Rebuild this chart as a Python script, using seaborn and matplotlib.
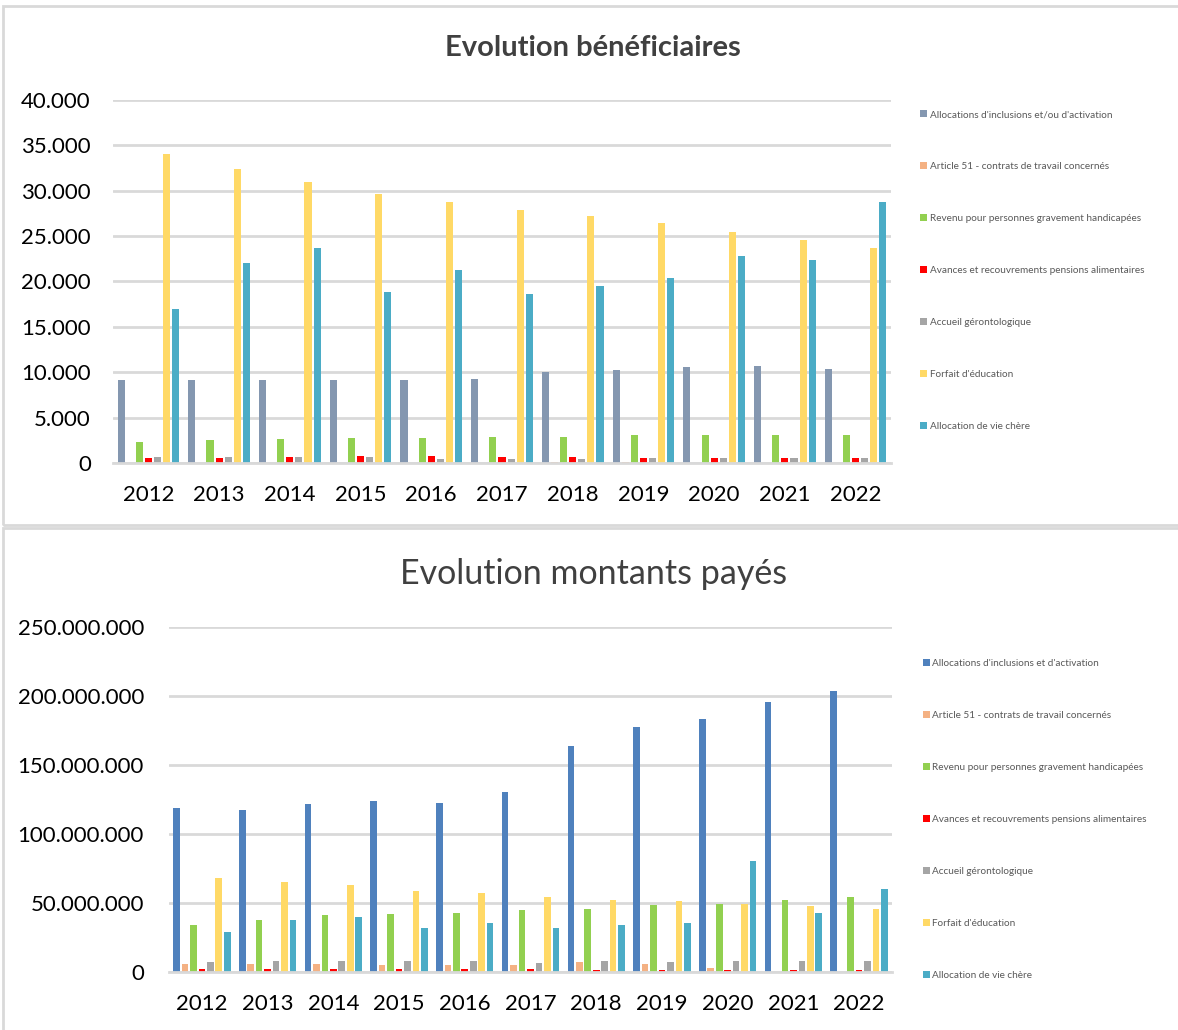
import numpy as np
import pandas as pd
import seaborn as sns
import matplotlib.pyplot as plt
from matplotlib.patches import Rectangle
from matplotlib.ticker import FuncFormatter

years = [2012, 2013, 2014, 2015, 2016, 2017, 2018, 2019, 2020, 2021, 2022]

# Evolution beneficiaires
benef_labels = ["Allocations d'inclusions et/ou d'activation",
                "Article 51 - contrats de travail concernés",
                "Revenu pour personnes gravement handicapées",
                "Avances et recouvrements pensions alimentaires",
                "Accueil gérontologique",
                "Forfait d'éducation",
                "Allocation de vie chère"]
benef_inclusion = [9200, 9200, 9200, 9200, 9200, 9300, 10000, 10250, 10550, 10700, 10400]
benef_art51 = [0, 0, 0, 0, 0, 0, 150, 150, 0, 0, 0]
benef_rpgh = [2350, 2500, 2600, 2750, 2750, 2900, 2900, 3050, 3050, 3050, 3050]
benef_avances = [500, 500, 650, 770, 770, 650, 650, 500, 500, 500, 500]
benef_accueil = [650, 650, 650, 650, 480, 480, 480, 500, 500, 500, 500]
benef_forfait = [34000, 32400, 31000, 29600, 28800, 27900, 27200, 26500, 25500, 24600, 23650]
benef_vie_chere = [17000, 22000, 23700, 18800, 21250, 18600, 19550, 20400, 22800, 22400, 28800]

# Evolution montants payes (millions)
pay_labels = ["Allocations d'inclusions et d'activation",
              "Article 51 - contrats de travail concernés",
              "Revenu pour personnes gravement handicapées",
              "Avances et recouvrements pensions alimentaires",
              "Accueil gérontologique",
              "Forfait d'éducation",
              "Allocation de vie chère"]
pay_inclusion = [119.2, 117.3, 121.9, 123.8, 122.8, 130.3, 163.6, 177.5, 183.1, 195.4, 203.5]
pay_art51 = [6, 6, 6, 5, 5, 5, 7, 6, 3, 0, 0]
pay_rpgh = [34.0, 37.6, 41.2, 42.2, 43.1, 45.0, 45.8, 48.9, 49.6, 52.3, 54.3]
pay_avances = [2.2, 2.2, 2.2, 2.2, 2.2, 2.2, 1.5, 1.5, 1.5, 1.5, 1.5]
pay_accueil = [7, 8, 8, 8, 8, 6.8, 8, 7, 8, 8, 8]
pay_forfait = [68.3, 65.4, 62.7, 58.9, 57.2, 54.3, 52.3, 51.6, 49.6, 47.7, 45.8]
pay_vie_chere = [29.1, 37.6, 40.2, 32.0, 35.6, 32.0, 33.9, 35.6, 80.2, 43.1, 59.8]

benef_colors = ['#8497B0', '#F4B183', '#92D050', '#FF0000', '#A5A5A5', '#FFD966', '#4BACC6']
pay_colors = ['#4F81BD', '#F4B183', '#92D050', '#FF0000', '#A5A5A5', '#FFD966', '#4BACC6']


def to_long(labels, series, scale=1):
    rows = []
    for lab, vals in zip(labels, series):
        for y, v in zip(years, vals):
            rows.append({'year': str(y), 'serie': lab, 'value': v * scale})
    return pd.DataFrame(rows)


df_benef = to_long(benef_labels, [benef_inclusion, benef_art51, benef_rpgh, benef_avances,
                                  benef_accueil, benef_forfait, benef_vie_chere])
df_pay = to_long(pay_labels, [pay_inclusion, pay_art51, pay_rpgh, pay_avances,
                              pay_accueil, pay_forfait, pay_vie_chere], scale=1e6)

sns.set_style('white')
plt.rcParams['font.family'] = ['Lato', 'DejaVu Sans']

W, H = 1178, 1030
fig = plt.figure(figsize=(W / 100, H / 100), dpi=100)


def px_axes(left, top, right, bottom):
    return fig.add_axes([left / W, 1 - bottom / H, (right - left) / W, (bottom - top) / H])


dot_fmt = FuncFormatter(lambda v, p: f"{int(round(v)):,}".replace(',', '.'))

# panel borders
fig.patches.append(Rectangle((3 / W, 1 - 525 / H), 1.0, 519 / H, transform=fig.transFigure,
                             fill=False, edgecolor='#D9D9D9', lw=2))
fig.patches.append(Rectangle((3 / W, -0.01), 1.0, 1 - 528 / H + 0.01, transform=fig.transFigure,
                             fill=False, edgecolor='#D9D9D9', lw=2))


def draw(ax, df, colors, ymax, step, xpad, ypad, legend_top):
    sns.barplot(data=df, x='year', y='value', hue='serie', palette=colors, saturation=1,
                width=0.9, gap=0.22, ax=ax, linewidth=0)
    ax.set_ylim(0, ymax)
    ax.set_yticks(np.arange(0, ymax + 1, step))
    ax.yaxis.set_major_formatter(dot_fmt)
    ax.yaxis.grid(True, color='#D9D9D9', lw=2)
    ax.set_axisbelow(True)
    for s in ['top', 'right', 'left']:
        ax.spines[s].set_visible(False)
    ax.spines['bottom'].set_color('#D9D9D9')
    ax.spines['bottom'].set_linewidth(2)
    ax.set_xlabel('')
    ax.set_ylabel('')
    ax.tick_params(axis='y', length=0, pad=ypad, labelsize=16, labelcolor='#000000')
    ax.tick_params(axis='x', length=0, pad=xpad, labelsize=16, labelcolor='#000000')
    sns.move_legend(ax, 'upper left', bbox_to_anchor=(legend_top[0] / W, 1 - legend_top[1] / H),
                    bbox_transform=fig.transFigure, frameon=False, title=None, fontsize=7.2,
                    labelspacing=4.3, handlelength=0.65, handleheight=0.65, handletextpad=0.3,
                    borderpad=0, borderaxespad=0)
    for t in ax.get_legend().get_texts():
        t.set_color('#595959')


ax1 = px_axes(113, 100, 891, 463)
draw(ax1, df_benef, benef_colors, 40000, 5000, 16, 16, (920, 110))
fig.text(593 / W, 1 - 48 / H, 'Evolution bénéficiaires', ha='center', va='center',
         fontsize=21, fontweight='bold', color='#404040')

ax2 = px_axes(169, 627, 892, 972)
draw(ax2, df_pay, pay_colors, 250e6, 50e6, 16, 18, (923, 659))
fig.text(594 / W, 1 - 574 / H, 'Evolution montants payés', ha='center', va='center',
         fontsize=24.5, color='#404040')

plt.savefig('out.png', dpi=100)
